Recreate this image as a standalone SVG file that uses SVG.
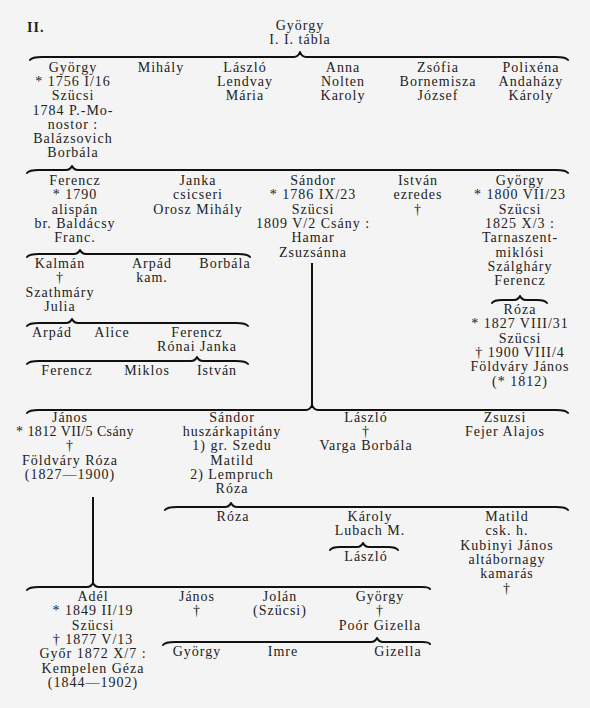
<svg xmlns="http://www.w3.org/2000/svg" width="590" height="708" viewBox="0 0 590 708">
<style>
.bg{fill:#f4f4f4}
text{font-family:"Liberation Serif","DejaVu Serif",serif;font-size:14px;letter-spacing:1px;fill:#222;text-anchor:middle}
.br{fill:none;stroke:#111;stroke-width:2;stroke-linecap:round;stroke-linejoin:round}
.ln{stroke:#111;stroke-width:2}
</style>
<rect class="bg" x="0" y="0" width="590" height="708"/>
<g id="connectors">
<path class="br" d="M30,60 Q32,57 42,57 L294,57 Q298,57 300,52 Q302,57 306,57 L556,57 Q566,57 568,60"/>
<path class="br" d="M27,173 Q29,170 39,170 L66,170 Q70,170 72,166 Q74,170 78,170 L556,170 Q566,170 568,173"/>
<path class="br" d="M27,257 Q29,254 39,254 L74,254 Q78,254 80,250 Q82,254 86,254 L238,254 Q248,254 250,257"/>
<path class="br" d="M492,303 Q494,300 502,300 L514,300 Q518,300 520,296 Q522,300 526,300 L537,300 Q545,300 547,303"/>
<path class="br" d="M27,326 Q29,323 39,323 L66,323 Q70,323 72,319 Q74,323 78,323 L236,323 Q246,323 248,326"/>
<path class="br" d="M27,364 Q29,361 39,361 L191,361 Q195,361 197,357 Q199,361 203,361 L236,361 Q246,361 248,364"/>
<path class="br" d="M27,413 Q29,410 39,410 L306,410 Q310,410 312,405 Q314,410 318,410 L556,410 Q566,410 568,413"/>
<path class="br" d="M165,510 Q167,507 177,507 L225,507 Q229,507 231,503 Q233,507 237,507 L556,507 Q566,507 568,510"/>
<path class="br" d="M330,550 Q332,547 340,547 L357,547 Q361,547 363,543 Q365,547 369,547 L388,547 Q396,547 398,550"/>
<path class="br" d="M27,590 Q29,587 39,587 L87,587 Q91,587 93,583 Q95,587 99,587 L422,587 Q429,587 430,589"/>
<path class="br" d="M163,645 Q165,642 175,642 L371,642 Q375,642 377,638 Q379,642 383,642 L422,642 Q429,642 430,644"/>
<line class="ln" x1="312" y1="263" x2="312" y2="405"/>
<line class="ln" x1="93" y1="497" x2="93" y2="583"/>
</g>
<g id="title"><text x="27" y="32" style="text-anchor:start;font-weight:bold">II.</text></g>
<g id="root"><text x="300" y="30">György<tspan x="300" dy="14">I. I. tábla</tspan></text></g>
<g id="gyorgy1756"><text x="73" y="72">György<tspan x="73" dy="14.2">* 1756 I/16</tspan><tspan x="73" dy="14.2">Szücsi</tspan><tspan x="73" dy="14.2">1784 P.-Mo-</tspan><tspan x="73" dy="14.2">nostor :</tspan><tspan x="73" dy="14.2">Balázsovich</tspan><tspan x="73" dy="14.2">Borbála</tspan></text></g>
<g id="mihaly"><text x="161" y="72">Mihály</text></g>
<g id="laszlo1"><text x="245" y="72">László<tspan x="245" dy="14.2">Lendvay</tspan><tspan x="245" dy="14.2">Mária</tspan></text></g>
<g id="anna"><text x="343" y="72">Anna<tspan x="343" dy="14.2">Nolten</tspan><tspan x="343" dy="14.2">Karoly</tspan></text></g>
<g id="zsofia"><text x="438" y="72">Zsófia<tspan x="438" dy="14.2">Bornemisza</tspan><tspan x="438" dy="14.2">József</tspan></text></g>
<g id="polixena"><text x="531" y="72">Polixéna<tspan x="531" dy="14.2">Andaházy</tspan><tspan x="531" dy="14.2">Károly</tspan></text></g>
<g id="ferencz1790"><text x="75" y="185">Ferencz<tspan x="75" dy="14.3">* 1790</tspan><tspan x="75" dy="14.3">alispán</tspan><tspan x="75" dy="14.3">br. Baldácsy</tspan><tspan x="75" dy="14.3">Franc.</tspan></text></g>
<g id="janka"><text x="198" y="185">Janka<tspan x="198" dy="14.3">csicseri</tspan><tspan x="198" dy="14.3">Orosz  Mihály</tspan></text></g>
<g id="sandor1786"><text x="313" y="185">Sándor<tspan x="313" dy="14.3">* 1786 IX/23</tspan><tspan x="313" dy="14.3">Szücsi</tspan><tspan x="313" dy="14.3">1809 V/2 Csány :</tspan><tspan x="313" dy="14.3">Hamar</tspan><tspan x="313" dy="14.3">Zsuzsánna</tspan></text></g>
<g id="istvan1"><text x="418" y="185">István<tspan x="418" dy="14.3">ezredes</tspan><tspan x="418" dy="14.3">†</tspan></text></g>
<g id="gyorgy1800"><text x="520" y="185">György<tspan x="520" dy="14.3">* 1800 VII/23</tspan><tspan x="520" dy="14.3">Szücsi</tspan><tspan x="520" dy="14.3">1825 X/3 :</tspan><tspan x="520" dy="14.3">Tarnaszent-</tspan><tspan x="520" dy="14.3">miklósi</tspan><tspan x="520" dy="14.3">Szálgháry</tspan><tspan x="520" dy="14.3">Ferencz</tspan></text></g>
<g id="roza1827"><text x="520" y="314">Róza<tspan x="520" dy="14.3">* 1827 VIII/31</tspan><tspan x="520" dy="14.3">Szücsi</tspan><tspan x="520" dy="14.3">† 1900 VIII/4</tspan><tspan x="520" dy="14.3">Földváry János</tspan><tspan x="520" dy="14.3">(* 1812)</tspan></text></g>
<g id="kalman"><text x="60" y="268">Kalmán<tspan x="60" dy="14.3">†</tspan><tspan x="60" dy="14.3">Szathmáry</tspan><tspan x="60" dy="14.3">Julia</tspan></text></g>
<g id="arpad1"><text x="152" y="268">Arpád<tspan x="152" dy="14.3">kam.</tspan></text></g>
<g id="borbala"><text x="225" y="268">Borbála</text></g>
<g id="arpad2"><text x="52" y="337">Arpád</text></g>
<g id="alice"><text x="112" y="337">Alice</text></g>
<g id="ferencz2"><text x="197" y="337">Ferencz<tspan x="197" dy="14">Rónai  Janka</tspan></text></g>
<g id="ferencz3"><text x="67" y="375">Ferencz</text></g>
<g id="miklos"><text x="147" y="375">Miklos</text></g>
<g id="istvan2"><text x="217" y="375">István</text></g>
<g id="janos1812"><text x="70" y="422">János<tspan x="75" dy="14.2" style="letter-spacing:0.4px">* 1812 VII/5 Csány</tspan><tspan x="70" dy="14.2">†</tspan><tspan x="70" dy="14.2">Földváry Róza</tspan><tspan x="70" dy="14.2">(1827—1900)</tspan></text></g>
<g id="sandor2"><text x="232" y="422">Sándor<tspan x="232" dy="14.2">huszárkapitány</tspan><tspan x="232" dy="14.2">1) gr. Szedu</tspan><tspan x="232" dy="14.2">Matild</tspan><tspan x="232" dy="14.2">2) Lempruch</tspan><tspan x="232" dy="14.2">Róza</tspan></text></g>
<g id="laszlo2"><text x="366" y="422">László<tspan x="366" dy="14.2">†</tspan><tspan x="366" dy="14.2">Varga  Borbála</tspan></text></g>
<g id="zsuzsi"><text x="505" y="422">Zsuzsi<tspan x="505" dy="14.2">Fejer  Alajos</tspan></text></g>
<g id="roza2"><text x="233" y="521">Róza</text></g>
<g id="karoly"><text x="370" y="521">Károly<tspan x="370" dy="14">Lubach  M.</tspan></text></g>
<g id="laszlo3"><text x="366" y="561">László</text></g>
<g id="matild"><text x="507" y="521">Matild<tspan x="507" dy="14.3">csk. h.</tspan><tspan x="507" dy="14.3">Kubinyi János</tspan><tspan x="507" dy="14.3">altábornagy</tspan><tspan x="507" dy="14.3">kamarás</tspan><tspan x="507" dy="14.3">†</tspan></text></g>
<g id="adel"><text x="93" y="601">Adél<tspan x="93" dy="14.3">* 1849 II/19</tspan><tspan x="93" dy="14.3">Szücsi</tspan><tspan x="93" dy="14.3">† 1877 V/13</tspan><tspan x="93" dy="14.3">Győr 1872 X/7 :</tspan><tspan x="93" dy="14.3">Kempelen Géza</tspan><tspan x="93" dy="14.3">(1844—1902)</tspan></text></g>
<g id="janos2"><text x="197" y="601">János<tspan x="197" dy="14.3">†</tspan></text></g>
<g id="jolan"><text x="280" y="601">Jolán<tspan x="280" dy="14.3">(Szücsi)</tspan></text></g>
<g id="gyorgy3"><text x="380" y="601">György<tspan x="380" dy="14.3">†</tspan><tspan x="380" dy="14.3">Poór  Gizella</tspan></text></g>
<g id="gyorgy4"><text x="197" y="656">György</text></g>
<g id="imre"><text x="283" y="656">Imre</text></g>
<g id="gizella"><text x="398" y="656">Gizella</text></g>
</svg>
